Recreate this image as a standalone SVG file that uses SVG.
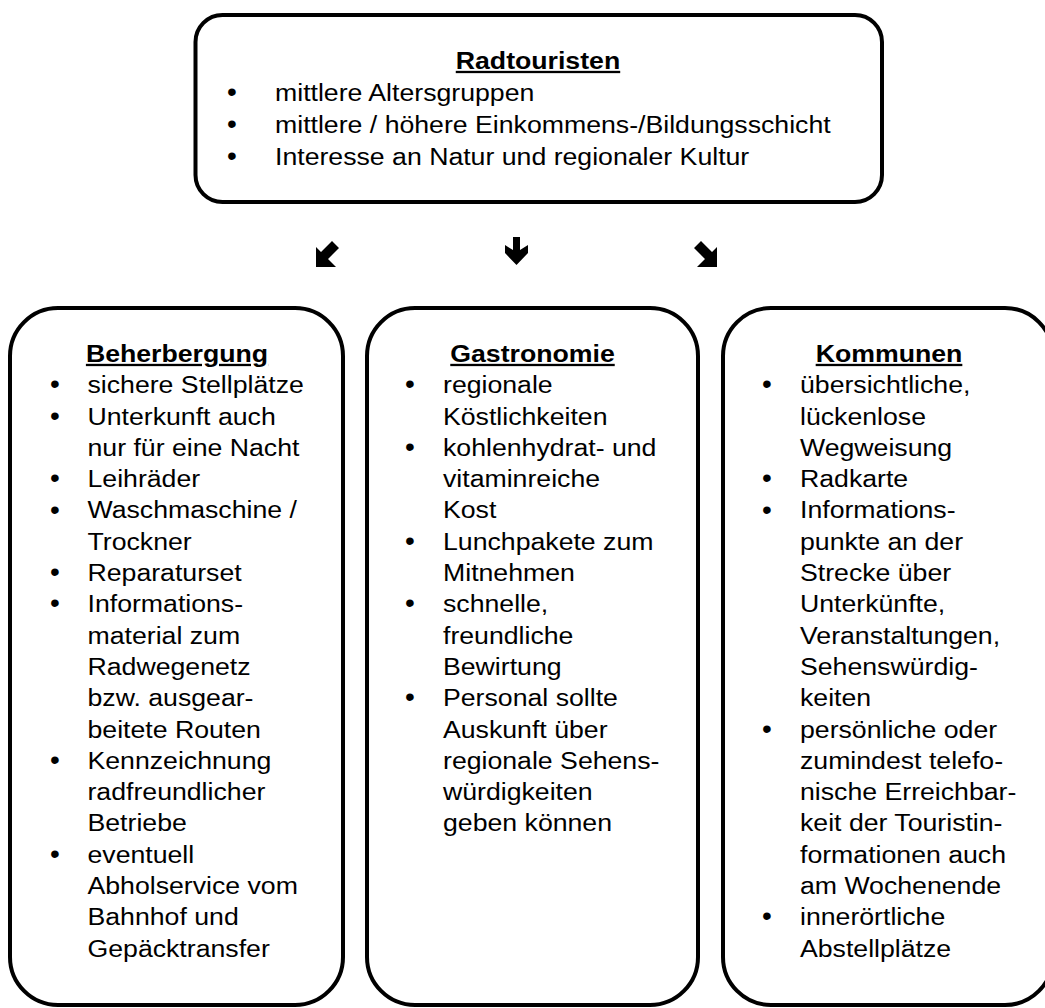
<svg xmlns="http://www.w3.org/2000/svg" width="1045" height="1008" viewBox="0 0 1045 1008">
<style>
.box{fill:#fff;stroke:#000;stroke-width:4}
text{font-family:"Liberation Sans",Arial,sans-serif;font-size:23px;fill:#000}
.t{font-weight:bold;text-decoration:underline;text-anchor:middle}
.b{text-anchor:middle;font-size:28px}
.arr{fill:#000;stroke:none}
</style>
<rect width="1045" height="1008" fill="#fff"/>
<g id="radtouristen">
<rect class="box" x="195.5" y="15" width="686.5" height="187" rx="27"/>
<text class="t" x="538" y="69" transform="matrix(1.16,0,0,1,-86.08,0)">Radtouristen</text>
<text class="b"><tspan x="232" y="101">•</tspan><tspan x="232" y="133">•</tspan><tspan x="232" y="165">•</tspan></text>
<text transform="matrix(1.16,0,0,1,-44,0)"><tspan x="275" y="101">mittlere Altersgruppen</tspan><tspan x="275" y="133">mittlere / höhere Einkommens-/Bildungsschicht</tspan><tspan x="275" y="165">Interesse an Natur und regionaler Kultur</tspan></text>
</g>
<g id="connectors">
<polygon class="arr" points="316,267 316,247 321,252 332,241 339,248 328,259 336,267"/>
<polygon class="arr" points="513,237 520,237 520,250 528,245 528,253 516.5,265 505,253 505,245 513,250"/>
<polygon class="arr" transform="translate(1033,0) scale(-1,1)" points="316,267 316,247 321,252 332,241 339,248 328,259 336,267"/>
</g>
<g id="beherbergung">
<rect class="box" x="10" y="308" width="333" height="697" rx="48"/>
<text class="t" x="177" y="362" transform="matrix(1.16,0,0,1,-28.32,0)">Beherbergung</text>
<text class="b"><tspan x="55" y="393.3">•</tspan><tspan x="55" y="424.6">•</tspan><tspan x="55" y="487.2">•</tspan><tspan x="55" y="518.5">•</tspan><tspan x="55" y="581.1">•</tspan><tspan x="55" y="612.4">•</tspan><tspan x="55" y="768.9">•</tspan><tspan x="55" y="862.8">•</tspan></text>
<text transform="matrix(1.16,0,0,1,-14,0)"><tspan x="87.5" y="393.3">sichere Stellplätze</tspan><tspan x="87.5" y="424.6">Unterkunft auch</tspan><tspan x="87.5" y="455.9">nur für eine Nacht</tspan><tspan x="87.5" y="487.2">Leihräder</tspan><tspan x="87.5" y="518.5">Waschmaschine /</tspan><tspan x="87.5" y="549.8">Trockner</tspan><tspan x="87.5" y="581.1">Reparaturset</tspan><tspan x="87.5" y="612.4">Informations-</tspan><tspan x="87.5" y="643.7">material zum</tspan><tspan x="87.5" y="675">Radwegenetz</tspan><tspan x="87.5" y="706.3">bzw. ausgear-</tspan><tspan x="87.5" y="737.6">beitete Routen</tspan><tspan x="87.5" y="768.9">Kennzeichnung</tspan><tspan x="87.5" y="800.2">radfreundlicher</tspan><tspan x="87.5" y="831.5">Betriebe</tspan><tspan x="87.5" y="862.8">eventuell</tspan><tspan x="87.5" y="894.1">Abholservice vom</tspan><tspan x="87.5" y="925.4">Bahnhof und</tspan><tspan x="87.5" y="956.7">Gepäcktransfer</tspan></text>
</g>
<g id="gastronomie">
<rect class="box" x="367" y="308" width="331" height="697" rx="48"/>
<text class="t" x="532.5" y="362" transform="matrix(1.16,0,0,1,-85.2,0)">Gastronomie</text>
<text class="b"><tspan x="410" y="393.3">•</tspan><tspan x="410" y="455.9">•</tspan><tspan x="410" y="549.8">•</tspan><tspan x="410" y="612.4">•</tspan><tspan x="410" y="706.3">•</tspan></text>
<text transform="matrix(1.16,0,0,1,-70.88,0)"><tspan x="443" y="393.3">regionale</tspan><tspan x="443" y="424.6">Köstlichkeiten</tspan><tspan x="443" y="455.9">kohlenhydrat- und</tspan><tspan x="443" y="487.2">vitaminreiche</tspan><tspan x="443" y="518.5">Kost</tspan><tspan x="443" y="549.8">Lunchpakete zum</tspan><tspan x="443" y="581.1">Mitnehmen</tspan><tspan x="443" y="612.4">schnelle,</tspan><tspan x="443" y="643.7">freundliche</tspan><tspan x="443" y="675">Bewirtung</tspan><tspan x="443" y="706.3">Personal sollte</tspan><tspan x="443" y="737.6">Auskunft über</tspan><tspan x="443" y="768.9">regionale Sehens-</tspan><tspan x="443" y="800.2">würdigkeiten</tspan><tspan x="443" y="831.5">geben können</tspan></text>
</g>
<g id="kommunen">
<rect class="box" x="723" y="308" width="330" height="697" rx="48"/>
<text class="t" x="889" y="362" transform="matrix(1.16,0,0,1,-142.24,0)">Kommunen</text>
<text class="b"><tspan x="767" y="393.3">•</tspan><tspan x="767" y="487.2">•</tspan><tspan x="767" y="518.5">•</tspan><tspan x="767" y="737.6">•</tspan><tspan x="767" y="925.4">•</tspan></text>
<text transform="matrix(1.16,0,0,1,-128,0)"><tspan x="800" y="393.3">übersichtliche,</tspan><tspan x="800" y="424.6">lückenlose</tspan><tspan x="800" y="455.9">Wegweisung</tspan><tspan x="800" y="487.2">Radkarte</tspan><tspan x="800" y="518.5">Informations-</tspan><tspan x="800" y="549.8">punkte an der</tspan><tspan x="800" y="581.1">Strecke über</tspan><tspan x="800" y="612.4">Unterkünfte,</tspan><tspan x="800" y="643.7">Veranstaltungen,</tspan><tspan x="800" y="675">Sehenswürdig-</tspan><tspan x="800" y="706.3">keiten</tspan><tspan x="800" y="737.6">persönliche oder</tspan><tspan x="800" y="768.9">zumindest telefo-</tspan><tspan x="800" y="800.2">nische Erreichbar-</tspan><tspan x="800" y="831.5">keit der Touristin-</tspan><tspan x="800" y="862.8">formationen auch</tspan><tspan x="800" y="894.1">am Wochenende</tspan><tspan x="800" y="925.4">innerörtliche</tspan><tspan x="800" y="956.7">Abstellplätze</tspan></text>
</g>
</svg>
